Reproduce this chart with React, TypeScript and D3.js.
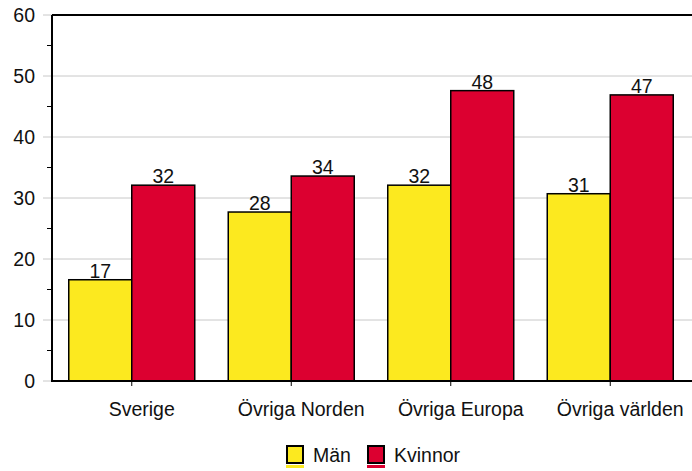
import React from "react";
import * as d3 from "d3";

const categories = ["Sverige", "Övriga Norden", "Övriga Europa", "Övriga världen"];
const series = ["Män", "Kvinnor"];
const man = [16.6, 27.7, 32.1, 30.7];
const kvinnor = [32.1, 33.6, 47.6, 46.9];
const yTicks = [0, 10, 20, 30, 40, 50, 60];
const minorTicks = [5, 15, 25, 35, 45, 55];
const colors = ["#FCE91F", "#DC0030"];

export default function App() {
  const W = 692, H = 471;
  const left = 52, top = 15, bottom = 381, right = 690;
  const x0 = d3.scaleBand<string>().domain(categories).range([left, right]).paddingInner(0).paddingOuter(0);
  const x1 = d3.scaleBand<string>().domain(series).range([0, 126]);
  const y = d3.scaleLinear().domain([0, 60]).range([bottom, top]);
  const values = [man, kvinnor];
  const off = (x0.bandwidth() - 126) / 2;
  const font = "Liberation Sans, Arial, sans-serif";
  const fs = 19.5;
  return (
    <svg width={W} height={H} style={{ position: "absolute", left: 0, top: 0 }} fontFamily={font}>
      <rect width={W} height={H} fill="#fff" />
      {yTicks.map((t) => (
        <g key={t}>
          <line x1={43} x2={W} y1={y(t)} y2={y(t)} stroke="#c8c8c8" strokeWidth={1} />
          <text x={35} y={y(t)} dy="0.36em" textAnchor="end" fontSize={fs} fill="#111">{t}</text>
        </g>
      ))}
      {minorTicks.map((t) => (
        <line key={t} x1={47} x2={52} y1={y(t)} y2={y(t)} stroke="#000" strokeWidth={1} />
      ))}
      {categories.map((c, i) => (
        <g key={c}>
          {series.map((s, j) => {
            const v = values[j][i];
            const bx = (x0(c) as number) + off + (x1(s) as number);
            return (
              <g key={s}>
                <rect x={bx} y={y(v)} width={x1.bandwidth()} height={bottom - y(v)} fill={colors[j]} stroke="#000" strokeWidth={1.5} />
                <text x={bx + x1.bandwidth() / 2} y={y(v) - 2} textAnchor="middle" fontSize={fs} fill="#111">{d3.format(".0f")(v)}</text>
              </g>
            );
          })}
          <line x1={(x0(c) as number) + x0.bandwidth() / 2} x2={(x0(c) as number) + x0.bandwidth() / 2} y1={bottom} y2={bottom + 5} stroke="#000" strokeWidth={1} />
          <text x={(x0(c) as number) + x0.bandwidth() / 2 + 10} y={416} textAnchor="middle" fontSize={fs} fill="#111">{c}</text>
        </g>
      ))}
      <line x1={left} x2={W} y1={top} y2={top} stroke="#000" strokeWidth={2} />
      <line x1={left} x2={W} y1={bottom} y2={bottom} stroke="#000" strokeWidth={2} />
      <line x1={left} x2={left} y1={top} y2={bottom + 1} stroke="#000" strokeWidth={2} />
      {series.map((s, j) => {
        const lx = j === 0 ? 286 : 367;
        return (
          <g key={s}>
            <rect x={lx} y={465} width={18} height={3} fill={colors[j]} />
            <rect x={lx + 1} y={446} width={16} height={17} fill={colors[j]} stroke="#000" strokeWidth={2} />
            <text x={lx + 27} y={462} fontSize={fs} fill="#111">{s}</text>
          </g>
        );
      })}
    </svg>
  );
}
